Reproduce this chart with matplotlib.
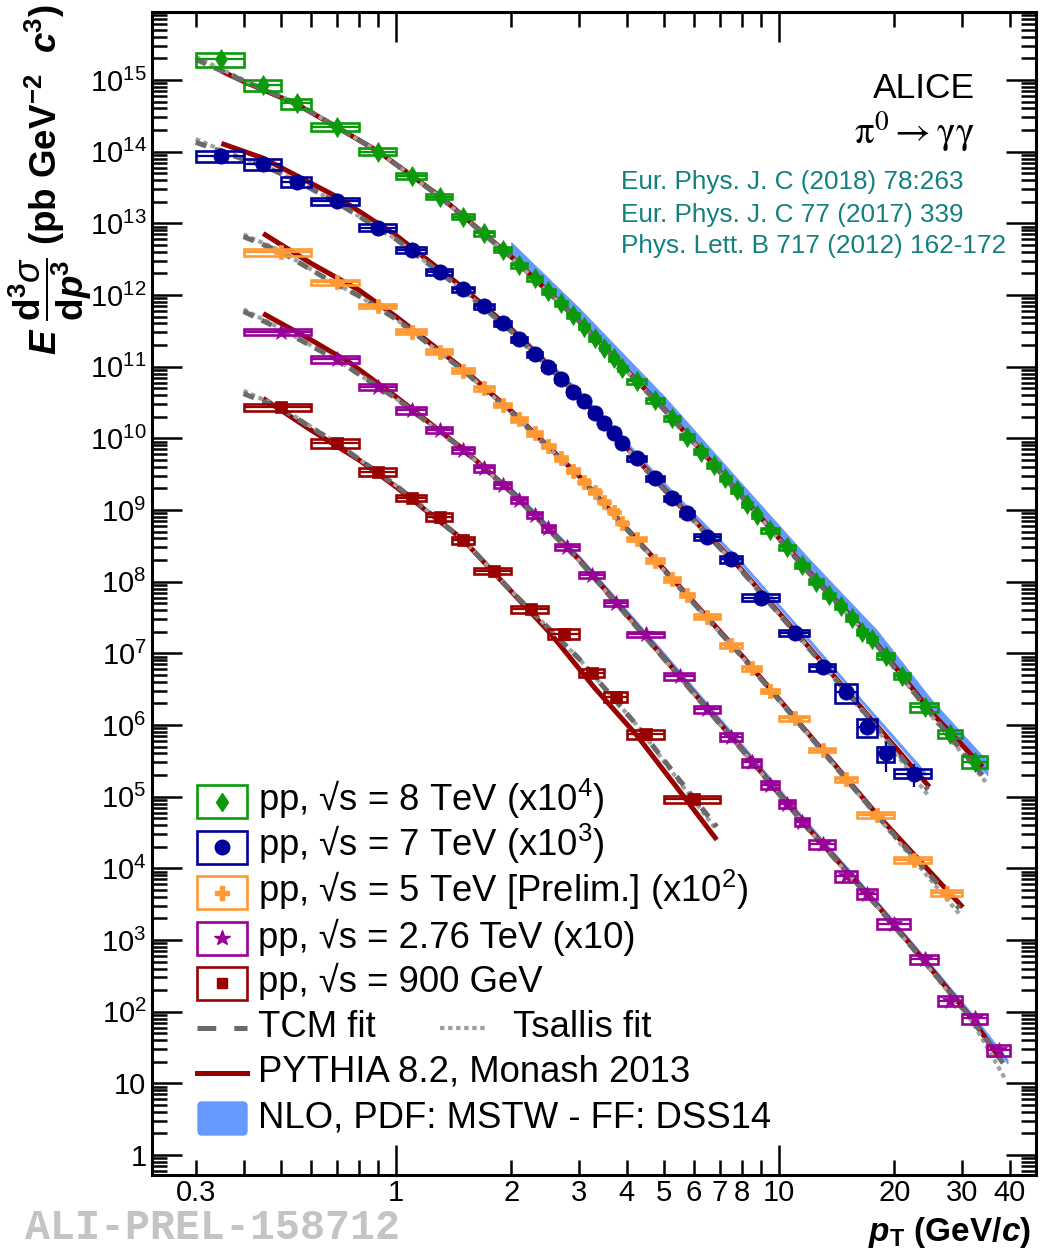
import numpy as np
import matplotlib
matplotlib.use('Agg')
import matplotlib.pyplot as plt
from matplotlib.patches import Rectangle, FancyBboxPatch
from matplotlib.lines import Line2D
from matplotlib.ticker import FixedLocator, FuncFormatter, LogLocator, NullFormatter
import matplotlib.transforms as mtransforms

plt.rcParams['font.family'] = ['Liberation Sans', 'DejaVu Sans']
plt.rcParams['mathtext.fontset'] = 'custom'
plt.rcParams['mathtext.rm'] = 'Liberation Sans'
plt.rcParams['mathtext.sf'] = 'Liberation Sans'
plt.rcParams['mathtext.it'] = 'Liberation Sans:italic'
plt.rcParams['mathtext.bf'] = 'Liberation Sans:bold'
try:
    plt.rcParams['mathtext.bfit'] = 'Liberation Sans:bold:italic'
except Exception:
    pass
plt.rcParams['lines.scale_dashes'] = False

# ---------------- data (values as displayed, already scaled) ----------------
# pp 8 TeV (x10^4)
edges_8 = [0.3, 0.4, 0.5, 0.6, 0.8, 1.0, 1.2, 1.4, 1.6, 1.8, 2.0, 2.2, 2.4, 2.6, 2.8, 3.0, 3.2, 3.4, 3.6, 3.8,
           4.0, 4.5, 5.0, 5.5, 6.0, 6.5, 7.0, 7.5, 8.0, 8.5, 9.0, 10, 11, 12, 13, 14, 15, 16, 17, 18, 20, 22, 26, 30, 35]
val_8 = [1.95e15, 8.5e14, 4.7e14, 2.2e14, 1.0e14, 4.6e13, 2.35e13, 1.24e13, 7.2e12, 4.3e12, 2.6e12, 1.7e12,
         1.13e12, 7.6e11, 5.2e11, 3.6e11, 2.5e11, 1.84e11, 1.3e11, 9.5e10, 6.3e10, 3.4e10, 1.9e10, 1.05e10,
         6.5e9, 4.2e9, 2.77e9, 1.9e9, 1.21e9, 8.5e8, 5.25e8, 3.0e8, 1.7e8, 1.0e8, 6.5e7, 4.5e7, 3.1e7, 2.0e7,
         1.57e7, 9.2e6, 4.8e6, 1.77e6, 7.5e5, 3.07e5]
sys_8 = [0.22, 0.18, 0.16, 0.13, 0.11, 0.09, 0.08, 0.08, 0.08, 0.08, 0.08, 0.08, 0.08, 0.08, 0.08, 0.08,
         0.08, 0.08, 0.08, 0.08, 0.08, 0.08, 0.08, 0.08, 0.08, 0.08, 0.08, 0.08, 0.08, 0.08, 0.08, 0.08,
         0.08, 0.08, 0.08, 0.09, 0.09, 0.09, 0.09, 0.10, 0.10, 0.13, 0.13, 0.19]

# pp 7 TeV (x10^3)
edges_7 = [0.3, 0.4, 0.5, 0.6, 0.8, 1.0, 1.2, 1.4, 1.6, 1.8, 2.0, 2.2, 2.4, 2.6, 2.8, 3.0, 3.2, 3.4, 3.6, 3.8,
           4.0, 4.5, 5.0, 5.5, 6.0, 7.0, 8.0, 10, 12, 14, 16, 18, 20, 25]
val_7 = [8.7e13, 6.65e13, 3.8e13, 2.04e13, 8.7e12, 4.24e12, 2.1e12, 1.2e12, 6.9e11, 4.0e11, 2.4e11, 1.5e11,
         9.8e10, 6.65e10, 4.47e10, 3.35e10, 2.23e10, 1.62e10, 1.18e10, 8.5e9, 5.26e9, 2.77e9, 1.46e9, 9.0e8,
         4.2e8, 2.05e8, 6.0e7, 1.9e7, 6.4e6, 2.9e6, 9.5e5, 4.0e5, 2.1e5]
sys_7 = [0.185, 0.17, 0.16, 0.117, 0.112, 0.10, 0.107, 0.08, 0.08, 0.08, 0.08, 0.08, 0.08, 0.08, 0.08, 0.08,
         0.08, 0.08, 0.08, 0.08, 0.08, 0.08, 0.08, 0.08, 0.107, 0.117, 0.107, 0.096, 0.107, 0.30, 0.29, 0.235, 0.144]
stat_7 = [0, 0, 0, 0, 0, 0, 0, 0, 0, 0, 0, 0, 0, 0, 0, 0, 0, 0, 0, 0, 0, 0, 0, 0, 0, 0, 0, 0, 0, 0,
          0.2, 0.45, 0.35]

# pp 5 TeV prelim (x10^2)
edges_5 = [0.4, 0.6, 0.8, 1.0, 1.2, 1.4, 1.6, 1.8, 2.0, 2.2, 2.4, 2.6, 2.8, 3.0, 3.2, 3.4, 3.6, 3.8, 4.0, 4.5,
           5.0, 5.5, 6.0, 7.0, 8.0, 9.0, 10, 12, 14, 16, 20, 25, 30]
val_5 = [3.94e12, 1.5e12, 7.0e11, 3.07e11, 1.62e11, 8.8e10, 4.98e10, 2.92e10, 1.84e10, 1.17e10, 7.8e9, 5.25e9,
         3.53e9, 2.48e9, 1.8e9, 1.3e9, 9.5e8, 6.6e8, 3.95e8, 1.96e8, 1.08e8, 6.5e7, 3.24e7, 1.3e7, 6.2e6,
         3.0e6, 1.24e6, 4.5e5, 1.74e5, 5.5e4, 1.31e4, 4.57e3]
sys_5 = [0.107, 0.08, 0.075, 0.075, 0.075, 0.075, 0.075, 0.075, 0.075, 0.075, 0.075, 0.075, 0.075, 0.075,
         0.075, 0.075, 0.075, 0.075, 0.075, 0.075, 0.075, 0.075, 0.075, 0.075, 0.075, 0.075, 0.075, 0.075,
         0.09, 0.096, 0.096, 0.096]

# pp 2.76 TeV (x10)
edges_276 = [0.4, 0.6, 0.8, 1.0, 1.2, 1.4, 1.6, 1.8, 2.0, 2.2, 2.4, 2.6, 3.0, 3.5, 4.0, 5.0, 6.0, 7.0, 8.0, 9.0,
             10, 11, 12, 14, 16, 18, 22, 26, 30, 35, 40]
val_276 = [3.07e11, 1.27e11, 5.25e10, 2.48e10, 1.3e10, 6.9e9, 3.8e9, 2.23e9, 1.38e9, 8.5e8, 5.55e8, 3.07e8,
           1.24e8, 5.1e7, 1.84e7, 4.8e6, 1.67e6, 6.9e5, 3.0e5, 1.46e5, 7.9e4, 4.48e4, 2.16e4, 7.9e3, 4.4e3,
           1.67e3, 538, 141, 80.7, 29.2]
sys_276 = [0.107, 0.107, 0.107, 0.107, 0.10, 0.10, 0.10, 0.10, 0.10, 0.10, 0.10, 0.10, 0.10, 0.096, 0.08,
           0.107, 0.117, 0.127, 0.122, 0.133, 0.133, 0.137, 0.147, 0.175, 0.165, 0.159, 0.147, 0.159, 0.159, 0.175]

# pp 900 GeV
edges_09 = [0.4, 0.6, 0.8, 1.0, 1.2, 1.4, 1.6, 2.0, 2.5, 3.0, 3.5, 4.0, 5.0, 7.0]
val_09 = [2.7e10, 8.5e9, 3.42e9, 1.48e9, 8.05e8, 3.8e8, 1.42e8, 4.1e7, 1.86e7, 5.37e6, 2.48e6, 7.5e5, 9.3e4]
sys_09 = [0.117, 0.133, 0.133, 0.107, 0.127, 0.117, 0.107, 0.107, 0.159, 0.133, 0.159, 0.147, 0.112]

# ---------------- curves ----------------
tcm_pt_8 = [0.3, 0.4, 0.55, 0.7, 0.9, 1.3, 2.0, 3.0, 5.0, 8.0, 12, 18, 25, 34]
tcm_8 = [1.94e15, 9.7e14, 4.7e14, 2.2e14, 1.0e14, 2.35e13, 3.35e12, 4.35e11, 2.55e10, 1.52e9, 1.3e8, 1.3e7, 1.4e6, 2.0e5]
tsa_pt_8 = [0.3, 0.4, 0.55, 0.7, 0.9, 1.3, 2.0, 3.0, 5.0, 8.0, 12, 18, 25, 35]
tsa_8 = [2.1e15, 1.0e15, 4.7e14, 2.2e14, 1.0e14, 2.35e13, 3.35e12, 4.35e11, 2.55e10, 1.52e9, 1.3e8, 1.3e7, 1.35e6, 1.5e5]
py_pt_8 = [0.35, 0.4, 0.55, 0.7, 0.9, 1.3, 2.0, 3.0, 5.0, 8.0, 12, 18, 25, 34]
py_8 = [1.33e15, 9.5e14, 4.6e14, 2.2e14, 1.0e14, 2.4e13, 3.4e12, 4.4e11, 2.6e10, 1.55e9, 1.35e8, 1.35e7, 1.5e6, 2.6e5]
nlo_pt_8 = [2, 3, 5, 8, 12, 18, 25, 35]
nlo_lo_8 = [3.8e12, 4.6e11, 2.65e10, 1.55e9, 1.35e8, 1.35e7, 1.45e6, 2.0e5]
nlo_hi_8 = [5.4e12, 6.6e11, 3.9e10, 2.3e9, 2.05e8, 2.1e7, 2.25e6, 3.1e5]

tcm_pt_7 = [0.3, 0.35, 0.4, 0.45, 0.55, 0.7, 1.0, 1.5, 2.0, 3.0, 5.0, 8.0, 12, 17, 24.5]
tcm_7 = [1.35e14, 1.0e14, 7.8e13, 6.4e13, 3.9e13, 1.95e13, 6.0e12, 1.15e12, 3.1e11, 3.9e10, 1.95e9, 1.4e8, 1.15e7, 1.35e6, 1.25e5]
tsa_7 = [1.5e14, 1.05e14, 8.0e13, 6.4e13, 3.9e13, 1.95e13, 6.0e12, 1.15e12, 3.1e11, 3.9e10, 1.95e9, 1.4e8, 1.15e7, 1.3e6, 1.05e5]
py_pt_7 = [0.35, 0.45, 0.7, 1.0, 1.5, 2.0, 3.0, 5.0, 8.0, 12, 17, 24.7]
py_7 = [1.3e14, 8.1e13, 2.35e13, 6.8e12, 1.25e12, 3.3e11, 4.0e10, 2.0e9, 1.45e8, 1.2e7, 1.4e6, 1.37e5]
nlo_pt_7 = [2, 3, 5, 8, 12, 17, 24]
nlo_lo_7 = [3.4e11, 4.3e10, 2.25e9, 1.72e8, 1.43e7, 1.67e6, 2.0e5]
nlo_hi_7 = [3.7e11, 4.7e10, 2.45e9, 1.88e8, 1.57e7, 1.83e6, 2.25e5]

tcm_pt_5 = [0.4, 0.5, 0.65, 0.8, 1.0, 1.5, 2.0, 3.0, 5.0, 8.0, 12, 18, 29.6]
tcm_5 = [6.5e12, 4.0e12, 1.75e12, 9.7e11, 4.6e11, 8.8e10, 2.3e10, 2.95e9, 1.45e8, 9.0e6, 7.1e5, 5.5e4, 2.76e3]
tsa_5 = [7.0e12, 4.1e12, 1.75e12, 9.7e11, 4.6e11, 8.8e10, 2.3e10, 2.95e9, 1.45e8, 9.0e6, 7.1e5, 5.4e4, 2.3e3]
py_pt_5 = [0.45, 0.6, 0.8, 1.0, 1.5, 2.0, 3.0, 5.0, 8.0, 12, 18, 30.2]
py_5 = [7.2e12, 2.76e12, 1.17e12, 5.0e11, 9.2e10, 2.4e10, 3.0e9, 1.5e8, 9.3e6, 7.3e5, 5.7e4, 2.86e3]

tcm_pt_276 = [0.4, 0.5, 0.7, 1.0, 1.5, 2.0, 3.0, 5.0, 8.0, 12, 18, 25, 32, 38.8]
tcm_276 = [5.9e11, 3.3e11, 1.25e11, 3.6e10, 6.9e9, 1.75e9, 2.0e8, 8.5e6, 4.5e5, 3.4e4, 3.0e3, 3.8e2, 76, 18]
tsa_276 = [6.3e11, 3.4e11, 1.25e11, 3.6e10, 6.9e9, 1.75e9, 2.0e8, 8.5e6, 4.5e5, 3.4e4, 3.0e3, 3.7e2, 72, 12]
py_pt_276 = [0.45, 0.6, 0.76, 1.0, 1.5, 2.0, 3.0, 5.0, 8.0, 12, 18, 25, 32, 37.8]
py_276 = [5.5e11, 2.36e11, 1.12e11, 3.8e10, 7.0e9, 1.8e9, 2.05e8, 8.7e6, 4.6e5, 3.5e4, 3.1e3, 3.9e2, 78, 22]
nlo_pt_276 = [2, 3, 5, 8, 12, 18, 25, 32, 39.5]
nlo_lo_276 = [1.85e9, 2.15e8, 9.3e6, 4.95e5, 3.7e4, 3.25e3, 4.1e2, 84, 19]
nlo_hi_276 = [2.05e9, 2.35e8, 1.03e7, 5.45e5, 4.1e4, 3.55e3, 4.5e2, 92, 21.5]

tcm_pt_09 = [0.4, 0.5, 0.7, 1.0, 1.5, 2.0, 3.0, 4.25, 5.5, 6.88]
tcm_09 = [4.2e10, 2.6e10, 8.5e9, 2.2e9, 3.8e8, 7.4e7, 8.5e6, 1.0e6, 1.7e5, 3.8e4]
tsa_09 = [4.6e10, 2.7e10, 8.6e9, 2.2e9, 3.8e8, 7.4e7, 8.5e6, 1.0e6, 1.6e5, 3.4e4]
py_pt_09 = [0.45, 0.6, 0.8, 1.0, 1.5, 2.0, 2.53, 3.3, 4.25, 5.5, 6.88]
py_09 = [3.6e10, 1.3e10, 5.0e9, 2.1e9, 3.8e8, 7.3e7, 1.9e7, 3.3e6, 7.2e5, 1.2e5, 2.5e4]

legend_labels = ['pp, √s = 8 TeV (x10$^{4}$)',
                 'pp, √s = 7 TeV (x10$^{3}$)',
                 'pp, √s = 5 TeV [Prelim.] (x10$^{2}$)',
                 'pp, √s = 2.76 TeV (x10)',
                 'pp, √s = 900 GeV']
x_tick_labels = {0.3: '0.3', 1: '1', 2: '2', 3: '3', 4: '4', 5: '5', 6: '6', 7: '7', 8: '8',
                 10: '10', 20: '20', 30: '30', 40: '40'}

# ---------------- styles ----------------
C8, C7, C5, C276, C09 = '#0a9a0a', '#000099', '#ff9933', '#990099', '#990000'
C_TCM, C_TSA, C_PY, C_NLO = '#6a6a6a', '#a0a0a0', '#990000', '#6699ff'
TEAL = '#11807f'

W, H = 1045, 1255
fig = plt.figure(figsize=(W / 100, H / 100), dpi=100)
ax = fig.add_axes([152 / W, 1 - 1175 / H, (1036 - 152) / W, (1175 - 11.7) / H])
ax.set_xscale('log')
ax.set_yscale('log')
ax.set_xlim(0.2306, 46.9)
ax.set_ylim(10 ** -0.279, 10 ** 15.952)

datasets = [
    dict(e=edges_8, v=val_8, s=sys_8, st=None, c=C8, m='d', ms=10),
    dict(e=edges_7, v=val_7, s=sys_7, st=stat_7, c=C7, m='o', ms=11),
    dict(e=edges_5, v=val_5, s=sys_5, st=None, c=C5, m='P', ms=10.5),
    dict(e=edges_276, v=val_276, s=sys_276, st=None, c=C276, m='*', ms=12),
    dict(e=edges_09, v=val_09, s=sys_09, st=None, c=C09, m='s', ms=8),
]

# NLO bands
for pt, lo, hi in [(nlo_pt_8, nlo_lo_8, nlo_hi_8), (nlo_pt_7, nlo_lo_7, nlo_hi_7),
                   (nlo_pt_276, nlo_lo_276, nlo_hi_276)]:
    ax.fill_between(pt, lo, hi, color=C_NLO, lw=0.8, edgecolor=C_NLO, zorder=1)

# PYTHIA
for pt, v in [(py_pt_8, py_8), (py_pt_7, py_7), (py_pt_5, py_5), (py_pt_276, py_276), (py_pt_09, py_09)]:
    ax.plot(pt, v, color=C_PY, lw=3.6, zorder=2, solid_capstyle='butt')
# Tsallis
for pt, v in [(tsa_pt_8, tsa_8), (tcm_pt_7, tsa_7), (tcm_pt_5, tsa_5), (tcm_pt_276, tsa_276), (tcm_pt_09, tsa_09)]:
    ax.plot(pt, v, color=C_TSA, lw=3.0, zorder=3, dashes=(3.2, 2.6))
# TCM
for pt, v in [(tcm_pt_8, tcm_8), (tcm_pt_7, tcm_7), (tcm_pt_5, tcm_5), (tcm_pt_276, tcm_276), (tcm_pt_09, tcm_09)]:
    ax.plot(pt, v, color=C_TCM, lw=3.6, zorder=4, dashes=(8.0, 6.5))

# data
for d in datasets:
    e = np.array(d['e'], float)
    v = np.array(d['v'], float)
    s = np.array(d['s'], float)
    lo, hi = e[:-1], e[1:]
    xc = 0.5 * (lo + hi)
    for i in range(len(v)):
        ax.add_patch(Rectangle((lo[i], v[i] * (1 - s[i])), hi[i] - lo[i], v[i] * 2 * s[i],
                               fill=False, edgecolor=d['c'], lw=1.9, zorder=5))
    yerr = None if d['st'] is None else v * np.array(d['st'], float)
    ax.errorbar(xc, v, xerr=[xc - lo, hi - xc], yerr=yerr, fmt='none', ecolor=d['c'],
                elinewidth=1.6, capsize=0, zorder=6)
    ax.plot(xc, v, ls='none', marker=d['m'], ms=d['ms'], color=d['c'], mec=d['c'], mew=0.5, zorder=7)

# axes styling
for sp in ax.spines.values():
    sp.set_linewidth(2.2)
ax.xaxis.set_major_locator(FixedLocator([1, 10]))
ax.xaxis.set_minor_locator(FixedLocator([0.3, 0.4, 0.5, 0.6, 0.7, 0.8, 0.9, 2, 3, 4, 5, 6, 7, 8, 9, 20, 30, 40]))
xfmt = FuncFormatter(lambda v, p: x_tick_labels.get(round(v, 3) if v < 1 else int(round(v)), ''))
ax.xaxis.set_major_formatter(xfmt)
ax.xaxis.set_minor_formatter(xfmt)


def yfmt(v, p):
    e = int(round(np.log10(v)))
    if e == 0:
        return '1'
    if e == 1:
        return '10'
    return r'$10^{%d}$' % e


ax.yaxis.set_major_locator(FixedLocator([10.0 ** k for k in range(0, 16)]))
ax.yaxis.set_minor_locator(LogLocator(base=10, subs=np.arange(2, 10), numticks=400))
ax.yaxis.set_major_formatter(FuncFormatter(yfmt))
ax.yaxis.set_minor_formatter(NullFormatter())
ax.tick_params(which='both', direction='in', top=True, right=True, width=1.8, labelsize=21)
ax.tick_params(which='major', length=21.5)
ax.tick_params(which='minor', length=10.8)
ax.tick_params(axis='x', which='both', pad=3)
ax.tick_params(axis='y', which='both', pad=4)

# pixel transform (x from left, y from top)
pix = mtransforms.Affine2D().scale(1 / W, -1 / H).translate(0, 1) + fig.transFigure

# legend
rows = [801.5, 847, 892.5, 938, 983]
for d, lab, r in zip(datasets, legend_labels, rows):
    fig.add_artist(Rectangle((197, r - 16.5), 50, 33, transform=pix, fill=False, edgecolor=d['c'], lw=1.9))
    fig.add_artist(Line2D([222], [r], transform=pix, ls='none', marker=d['m'], ms=d['ms'] * 0.95,
                          color=d['c'], mec=d['c']))
    fig.text(258, r + 9.5, lab, transform=pix, fontsize=26.3, va='baseline', ha='left')
fig.add_artist(Line2D([197, 247], [1027.7, 1027.7], transform=pix, color=C_TCM, lw=3.6, dashes=(13.5, 13)))
fig.text(258, 1037, 'TCM fit', transform=pix, fontsize=26.3, va='baseline')
fig.add_artist(Line2D([440, 485], [1027.7, 1027.7], transform=pix, color=C_TSA, lw=3.0, dashes=(3.2, 2.6)))
fig.text(513, 1037, 'Tsallis fit', transform=pix, fontsize=26.3, va='baseline')
fig.add_artist(Line2D([197, 247], [1072.7, 1072.7], transform=pix, color=C_PY, lw=3.6))
fig.text(258, 1082, 'PYTHIA 8.2, Monash 2013', transform=pix, fontsize=26.3, va='baseline')
fig.add_artist(FancyBboxPatch((198, 1102), 49, 33, boxstyle='round,pad=0,rounding_size=4', transform=pix,
                              facecolor=C_NLO, edgecolor=C_NLO, lw=1))
fig.text(258, 1128, 'NLO, PDF: MSTW - FF: DSS14', transform=pix, fontsize=26.3, va='baseline')

# top-right texts
fig.text(975, 98, 'ALICE', transform=pix, fontsize=25.5, ha='right', va='baseline')
fig.text(974, 144, r'$\mathrm{\pi}^{0}\rightarrow\mathrm{\gamma\gamma}$', transform=pix, fontsize=28,
         ha='right', va='baseline', math_fontfamily='stix')
for t, yb in [('Eur. Phys. J. C (2018) 78:263', 189.3), ('Eur. Phys. J. C 77 (2017) 339', 221.7),
              ('Phys. Lett. B 717 (2012) 162-172', 253.3)]:
    fig.text(621, yb, t, transform=pix, fontsize=18.8, color=TEAL, ha='left', va='baseline')

# axis labels
ylab = (r'$\mathbfit{E}\ \dfrac{\mathbf{d}^{\mathbf{3}}\sigma}{\mathbf{d}\mathbfit{p}^{\mathbf{3}}}\ '
        r'\mathbf{(pb\ GeV}^{\mathbf{-2}}\ \ \mathbfit{c}^{\mathbf{3}}\mathbf{)}$')
fig.text(50, 4, ylab, transform=pix, fontsize=26.5, rotation=90, ha='center', va='top')
xlab = r'$\mathbfit{p}_{\mathbf{T}}\ \mathbf{(GeV/}\mathbfit{c}\mathbf{)}$'
fig.text(1031, 1250, xlab, transform=pix, fontsize=24, ha='right', va='bottom')

# watermark
fig.text(25, 1239, 'ALI-PREL-158712', transform=pix, fontsize=30, family='Liberation Mono',
         fontweight='bold', color='#c4c4c4', ha='left', va='baseline')

fig.savefig('out.png', dpi=100)
